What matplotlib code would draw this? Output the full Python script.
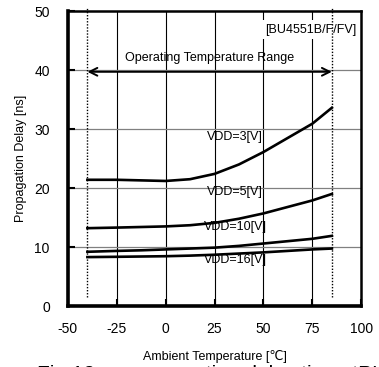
import matplotlib
matplotlib.use("Agg")
import matplotlib.pyplot as plt

plt.rcParams["font.family"] = ["Liberation Sans", "DejaVu Sans"]
plt.rcParams["axes.unicode_minus"] = False

temps = [-40, -25, -12.5, 0, 12.5, 25, 37.5, 50, 62.5, 75, 85]
vdd3 = [21.4, 21.4, 21.3, 21.2, 21.5, 22.4, 24.0, 26.1, 28.5, 30.9, 33.6]
vdd5 = [13.2, 13.3, 13.4, 13.5, 13.7, 14.1, 14.8, 15.7, 16.8, 17.9, 19.0]
vdd10 = [9.2, 9.35, 9.45, 9.6, 9.75, 9.9, 10.2, 10.6, 11.0, 11.4, 11.9]
vdd16 = [8.3, 8.35, 8.4, 8.45, 8.55, 8.7, 8.9, 9.1, 9.35, 9.6, 9.75]

labels = ["VDD=3[V]", "VDD=5[V]", "VDD=10[V]", "VDD=16[V]"]
label_y = [28.6, 19.3, 13.4, 7.8]
xticks = [-50, -25, 0, 25, 50, 75, 100]
yticks = [0, 10, 20, 30, 40, 50]

fig = plt.figure(figsize=(3.79, 3.67), dpi=100)
ax = fig.add_axes([0.179, 0.166, 0.774, 0.804])

ax.set_xlim(-50, 100)
ax.set_ylim(0, 50)

# grid: black verticals, grey horizontals
for x in xticks[1:-1]:
    ax.axvline(x, color="black", lw=0.8, zorder=1)
for y in yticks[1:-1]:
    ax.axhline(y, color="#808080", lw=0.9, zorder=1)

for vals in [vdd3, vdd5, vdd10, vdd16]:
    ax.plot(temps, vals, color="black", lw=1.9, zorder=3)

for lab, ly in zip(labels, label_y):
    ax.text(35.5, ly, lab, fontsize=9, ha="center", va="center", zorder=4)

# operating range markers
ax.plot([-40, -40], [1.6, 50.5], color="black", lw=1.0, ls=(0, (1, 1.2)),
        zorder=6, clip_on=False)
ax.plot([85, 85], [1.6, 50.5], color="black", lw=1.0, ls=(0, (1, 1.2)),
        zorder=6, clip_on=False)
ax.annotate("", xy=(-40, 39.7), xytext=(85, 39.7),
            arrowprops=dict(arrowstyle="<->", color="black", lw=1.4,
                            shrinkA=0, shrinkB=0, mutation_scale=14),
            zorder=5)
ax.text(22.7, 42.0, "Operating Temperature Range", fontsize=9,
        ha="center", va="center", zorder=4)
ax.text(97.5, 46.8, "[BU4551B/F/FV]", fontsize=9, ha="right", va="center",
        zorder=4, bbox=dict(facecolor="white", edgecolor="none", pad=2.5))

ax.set_xticks(xticks)
ax.set_yticks(yticks)
ax.tick_params(direction="in", length=5, width=1.5, labelsize=10, pad=11.5)
ax.tick_params(axis="y", pad=13)

for side in ["left", "bottom"]:
    ax.spines[side].set_linewidth(2.6)
for side in ["top", "right"]:
    ax.spines[side].set_linewidth(1.8)
for s in ax.spines.values():
    s.set_zorder(7)

ax.set_xlabel("Ambient Temperature [\u2103]", fontsize=9, labelpad=10)
ax.set_ylabel("Propagation Delay [ns]", fontsize=9, labelpad=5)

# caption below the chart, cut off by the lower edge as in the original
fig.text(0.098, -0.02, "Fig.12      propagation delay time  tPLH(BU4551B)",
         fontsize=15, ha="left", va="center")

fig.savefig("out.png", dpi=100)
